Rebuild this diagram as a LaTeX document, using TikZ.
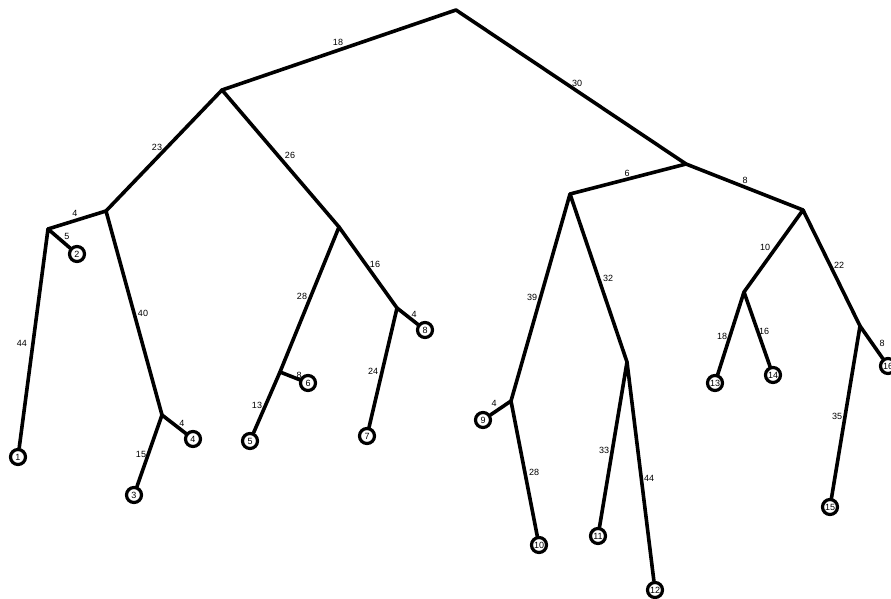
\documentclass[tikz,border=0pt]{standalone}
\usepackage{fontspec}
\setmainfont{Liberation Sans}
\begin{document}
\begin{tikzpicture}[x=1pt,y=-1pt,
  branch/.style={line width=3.6pt,line cap=round,line join=round},
  leaf/.style={circle,draw,fill=white,line width=3.2pt,minimum size=15pt,inner sep=0pt,
    font=\fontsize{9}{9}\selectfont},
  lbl/.style={inner sep=0pt,font=\fontsize{9}{9}\selectfont}]
\useasboundingbox (0,0) rectangle (891,599);

% internal vertices
\coordinate (R) at (456,10);
\coordinate (A) at (222,90);
\coordinate (B) at (686,164);
\coordinate (C) at (106,211);
\coordinate (D) at (339,227);
\coordinate (E) at (48,229);
\coordinate (F) at (162,415);
\coordinate (G) at (280,372);
\coordinate (H) at (397,308);
\coordinate (I) at (570,194);
\coordinate (J) at (803,210);
\coordinate (K) at (511,401);
\coordinate (L) at (627,362);
\coordinate (M) at (744,292);
\coordinate (N) at (860,326);

% leaves
\node[leaf] (n1) at (18,457) {1};
\node[leaf] (n2) at (77,254) {2};
\node[leaf] (n3) at (134,495) {3};
\node[leaf] (n4) at (193,439) {4};
\node[leaf] (n5) at (250,441) {5};
\node[leaf] (n6) at (308,383) {6};
\node[leaf] (n7) at (367,436) {7};
\node[leaf] (n8) at (425,330) {8};
\node[leaf] (n9) at (483,420) {9};
\node[leaf] (n10) at (539,545) {10};
\node[leaf] (n11) at (598,536) {11};
\node[leaf] (n12) at (655,590) {12};
\node[leaf] (n13) at (715,383) {13};
\node[leaf] (n14) at (773,375) {14};
\node[leaf] (n15) at (830,507) {15};
\node[leaf] (n16) at (888,366) {16};

% branches
\draw[branch] (A) -- (R) -- (B);
\draw[branch] (C) -- (A) -- (D);
\draw[branch] (E) -- (C) -- (F);
\draw[branch] (n2) -- (E) -- (n1);
\draw[branch] (n4) -- (F) -- (n3);
\draw[branch] (G) -- (D) -- (H);
\draw[branch] (n5) -- (G) -- (n6);
\draw[branch] (n8) -- (H) -- (n7);
\draw[branch] (I) -- (B) -- (J);
\draw[branch] (K) -- (I) -- (L);
\draw[branch] (n9) -- (K) -- (n10);
\draw[branch] (n11) -- (L) -- (n12);
\draw[branch] (M) -- (J) -- (N);
\draw[branch] (n13) -- (M) -- (n14);
\draw[branch] (n16) -- (N) -- (n15);

% branch lengths
\node[lbl] (w1) at (338,42) {18};
\node[lbl] (w2) at (577,83) {30};
\node[lbl] (w3) at (157,147) {23};
\node[lbl] (w4) at (290,155) {26};
\node[lbl] (w5) at (75,213) {4};
\node[lbl] (w6) at (67,236) {5};
\node[lbl] (w7) at (22,343) {44};
\node[lbl] (w8) at (143,313) {40};
\node[lbl] (w9) at (182,423) {4};
\node[lbl] (w10) at (141,454) {15};
\node[lbl] (w11) at (302,296) {28};
\node[lbl] (w12) at (257,405) {13};
\node[lbl] (w13) at (299,375) {8};
\node[lbl] (w14) at (375,264) {16};
\node[lbl] (w15) at (414,314) {4};
\node[lbl] (w16) at (373,371) {24};
\node[lbl] (w17) at (627,173) {6};
\node[lbl] (w18) at (745,180) {8};
\node[lbl] (w19) at (532,297) {39};
\node[lbl] (w20) at (494,403) {4};
\node[lbl] (w21) at (534,472) {28};
\node[lbl] (w22) at (608,278) {32};
\node[lbl] (w23) at (604,450) {33};
\node[lbl] (w24) at (649,478) {44};
\node[lbl] (w25) at (765,247) {10};
\node[lbl] (w26) at (722,336) {18};
\node[lbl] (w27) at (764,331) {16};
\node[lbl] (w28) at (839,265) {22};
\node[lbl] (w29) at (882,343) {8};
\node[lbl] (w30) at (837,416) {35};
\end{tikzpicture}
\end{document}
